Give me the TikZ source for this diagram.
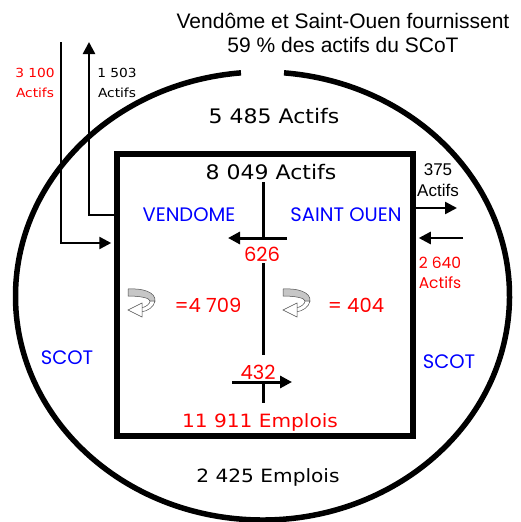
\documentclass[tikz,border=0pt]{standalone}
\usepackage{fontspec}
\setmainfont{Liberation Sans}
\newfontfamily\handfont[FakeStretch=1.1]{DejaVu Sans}
\newfontfamily\geofont{Poppins}
\usetikzlibrary{arrows.meta}
\tikzset{frame/.style={draw=black,line width=5.5pt},
 flow/.style={draw=black,line width=2.5pt,-{Triangle[length=12pt,width=12pt]}},
 rule/.style={draw=black,line width=3pt},
 hand/.style={font=\handfont\fontsize{20}{22}\selectfont,inner sep=0pt},
 jobs/.style={font=\handfont\fontsize{18.3}{22}\selectfont,inner sep=0pt},
 smallhand/.style={font=\handfont\fontsize{12.5}{20}\selectfont,align=center,inner sep=0pt},
 geo/.style={font=\geofont\fontsize{19.5}{20}\selectfont,inner sep=0pt},
 smallgeo/.style={font=\geofont\fontsize{15.5}{20}\selectfont,align=center,inner sep=0pt},
 every picture/.style={line join=miter}}
\newcommand{\uturn}[2]{%
 \begin{scope}[shift={(#1,#2)}]
 \path[fill=gray!45,draw=black!70,line width=.5pt] (0,0) .. controls (14,-1) and (28,3) .. (27,12) -- (22,12) .. controls (22,9) and (12,7) .. (0,7) -- cycle;
 \path[fill=white,draw=black!70,line width=.5pt] (27,12) .. controls (26,18) and (20,22) .. (13,23) -- (13,19) .. controls (18,18) and (22,15) .. (22,12) -- cycle;
 \path[fill=white,draw=black!70,line width=.5pt] (14,14) -- (0,21) -- (14,28) -- cycle;
 \end{scope}}

\begin{document}
\begin{tikzpicture}[x=1pt,y=-1pt]
\useasboundingbox (0,0) rectangle (521,522);
\draw[frame] (262.5,296) ++(275:247 and 224) arc[start angle=275,end angle=625,x radius=247,y radius=224];
\node[frame,minimum width=296pt,minimum height=282pt,inner sep=0pt] (box) at (265,295) {};
% flows across the box
\coordinate (src3100) at (61,42);
\coordinate (dst1503) at (89,42);
\coordinate (dst375) at (457,208);
\coordinate (src2640) at (463,238);
\draw[flow,shorten >=3pt] (src3100) |- ([yshift=52pt]box.west);
\draw[flow] ([yshift=80pt]box.west) -| (dst1503);
\draw[flow] ([yshift=87pt]box.east) -- (dst375);
\draw[flow,shorten >=3pt] (src2640) -- ([yshift=57pt]box.east);
% inner exchanges
\coordinate (divtop) at (263,182);
\coordinate (divcross) at (263,238);
\coordinate (divmid) at (263,263);
\coordinate (divlow) at (263,355);
\coordinate (tickup) at (263,382);
\coordinate (tickdown) at (263,403);
\coordinate (w626) at (228,238);
\coordinate (e626) at (287,238);
\coordinate (w432) at (232,382);
\coordinate (e432) at (292,382);
\draw[rule] (divtop) -- (divcross);
\draw[flow,line width=3pt] (e626) -- (w626);
\draw[rule] (divmid) -- (divlow);
\draw[flow,line width=3pt] (w432) -- (e432);
\draw[rule] (tickup) -- (tickdown);
\uturn{128}{289}
\uturn{283}{289}
% texts
\node[font=\fontsize{21}{23.5}\selectfont,align=center,inner sep=0pt] (title) at (343,33) {Vend\^ome et Saint-Ouen fournissent\\59 \% des actifs du SCoT};
\node[hand] (tot5485) at (274,116) {5 485 Actifs};
\node[hand] (tot8049) at (271,172) {8 049 Actifs};
\node[jobs,text=red] (emp11911) at (260,422) {11 911 Emplois};
\node[jobs] (emp2425) at (268,477) {2 425 Emplois};
\node[smallhand,text=red] (in3100) at (35,83) {3 100\\Actifs};
\node[smallhand] (out1503) at (117,83) {1 503\\Actifs};
\node[font=\fontsize{17}{21}\selectfont,align=center,inner sep=0pt] (out375) at (438,180) {375\\Actifs};
\node[smallgeo,text=red] (in2640) at (440,273) {2 640\\Actifs};
\node[geo,text=blue] (vendome) at (189,215) {VENDOME};
\node[geo,text=blue] (saintouen) at (346,215) {SAINT OUEN};
\node[geo,text=blue] (scotL) at (67,358) {SCOT};
\node[geo,text=blue] (scotR) at (449,362) {SCOT};
\node[geo,text=red] (n626) at (262,254) {626};
\node[geo,text=red] (n432) at (258,372) {432};
\node[geo,text=red] (n4709) at (208,305) {=4 709};
\node[geo,text=red] (n404) at (356,305) {= 404};
\end{tikzpicture}
\end{document}
